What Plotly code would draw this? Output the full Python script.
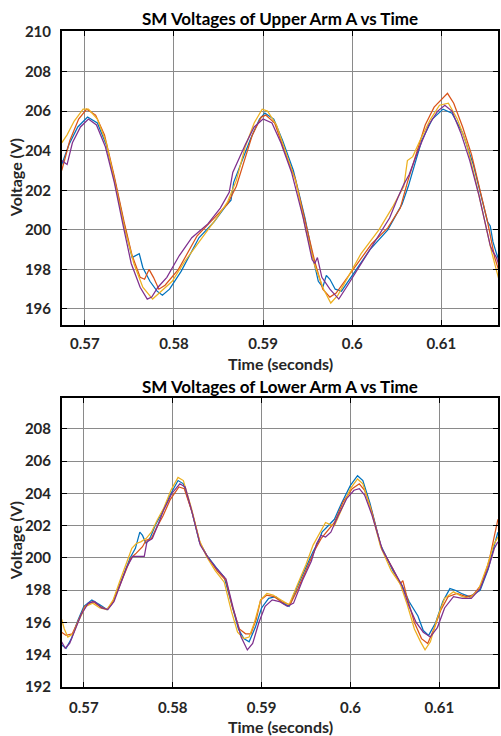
import plotly.graph_objects as go

# ---------------- data ----------------
COLORS = ["#0072BD", "#D95319", "#EDB120", "#7E2F8E"]

# Upper arm A
up_blue_t = [0.5674,0.5682,0.5692,0.5703,0.5714,0.5724,0.5733,0.5744,0.5753,0.5761,0.5765,0.5773,0.5781,0.5787,0.5795,0.5808,0.5828,0.5845,0.5858,0.5864,0.5867,0.5875,0.5886,0.5896,0.5902,0.5912,0.5922,0.5934,0.5947,0.5956,0.5962,0.5967,0.5971,0.5975,0.5981,0.5988,0.6000,0.6020,0.6040,0.6056,0.6063,0.6068,0.6078,0.6090,0.6102,0.6112,0.6124,0.6136,0.6146,0.6152,0.6155,0.6158,0.6162,0.6167]
up_blue_v = [203.3,204.3,205.2,205.7,205.4,204.3,202.6,200.3,198.6,198.8,198.1,197.4,196.9,196.7,197.0,197.9,199.6,200.4,201.2,201.5,202.4,203.3,204.6,205.6,205.9,205.6,204.5,203.0,200.6,198.6,197.4,197.1,197.7,197.5,197.0,196.9,197.7,199.0,200.0,201.3,202.2,203.0,204.5,205.6,206.1,205.9,204.9,203.3,201.4,200.4,200.2,199.4,198.8,198.2]

up_orange_t = [0.5674,0.5683,0.5693,0.5702,0.5712,0.5722,0.5733,0.5744,0.5753,0.5762,0.5767,0.5772,0.5777,0.5783,0.5790,0.5805,0.5826,0.5845,0.5860,0.5870,0.5878,0.5888,0.5898,0.5903,0.5913,0.5924,0.5936,0.5948,0.5958,0.5967,0.5975,0.5982,0.5990,0.6004,0.6022,0.6040,0.6054,0.6062,0.6072,0.6082,0.6092,0.6100,0.6107,0.6114,0.6124,0.6134,0.6142,0.6152,0.6160,0.6167]
up_orange_v = [203.0,204.5,205.6,206.1,205.8,204.8,202.7,200.4,198.7,197.6,197.5,198.0,197.6,197.0,197.2,198.0,199.7,200.6,201.3,202.2,203.4,204.8,205.7,205.8,205.4,204.0,202.6,200.3,198.4,197.0,196.6,196.8,197.3,198.2,199.3,200.1,201.1,202.4,203.9,205.3,206.2,206.6,206.9,206.4,205.2,203.8,202.3,200.4,198.6,197.6]

up_yellow_t = [0.5674,0.5680,0.5688,0.5698,0.5704,0.5714,0.5724,0.5734,0.5745,0.5755,0.5765,0.5776,0.5786,0.5798,0.5812,0.5830,0.5848,0.5860,0.5870,0.5880,0.5890,0.5899,0.5905,0.5915,0.5926,0.5937,0.5948,0.5958,0.5968,0.5976,0.5984,0.5994,0.6010,0.6030,0.6046,0.6058,0.6062,0.6068,0.6076,0.6088,0.6098,0.6108,0.6118,0.6128,0.6138,0.6148,0.6157,0.6167]
up_yellow_v = [204.4,204.8,205.5,206.1,206.1,205.6,204.4,202.3,200.0,198.3,197.1,196.5,196.9,197.4,198.4,199.5,200.6,201.4,202.5,204.2,205.4,206.1,206.0,205.3,203.9,202.4,200.0,198.2,197.0,196.3,196.7,197.5,198.8,200.0,201.2,202.2,203.5,203.7,204.5,205.6,206.3,206.4,205.6,204.4,202.6,200.6,198.8,197.1]

up_purple_t = [0.5674,0.5680,0.5686,0.5695,0.5704,0.5713,0.5723,0.5733,0.5743,0.5752,0.5762,0.5770,0.5775,0.5782,0.5792,0.5806,0.5820,0.5838,0.5852,0.5862,0.5866,0.5872,0.5880,0.5890,0.5900,0.5910,0.5920,0.5932,0.5945,0.5955,0.5958,0.5961,0.5966,0.5975,0.5985,0.5995,0.6010,0.6028,0.6042,0.6052,0.6058,0.6064,0.6074,0.6086,0.6096,0.6104,0.6112,0.6122,0.6132,0.6142,0.6150,0.6155,0.6158,0.6162,0.6167]
up_purple_v = [203.5,203.3,204.4,205.2,205.6,205.3,204.2,202.4,200.2,198.3,197.1,196.5,196.6,197.1,197.6,198.7,199.6,200.3,201.1,201.9,202.9,203.5,204.3,205.2,205.6,205.4,204.4,202.9,200.6,198.5,198.3,198.6,197.6,197.0,196.5,197.2,198.3,199.6,200.6,201.7,202.3,202.8,204.0,205.3,206.0,206.3,206.0,204.9,203.5,201.8,200.2,199.2,198.9,198.6,197.9]

# Lower arm A
lo_blue_t = [0.5675,0.5680,0.5686,0.5693,0.5700,0.5709,0.5718,0.5726,0.5732,0.5738,0.5745,0.5752,0.5758,0.5763,0.5766,0.5770,0.5775,0.5781,0.5788,0.5796,0.5806,0.5812,0.5821,0.5830,0.5838,0.5849,0.5858,0.5866,0.5874,0.5880,0.5886,0.5893,0.5900,0.5908,0.5916,0.5924,0.5931,0.5940,0.5950,0.5958,0.5964,0.5968,0.5975,0.5982,0.5990,0.6000,0.6008,0.6014,0.6022,0.6034,0.6048,0.6058,0.6066,0.6076,0.6082,0.6088,0.6096,0.6104,0.6112,0.6118,0.6125,0.6134,0.6146,0.6155,0.6162,0.6166]
lo_blue_v = [194.6,194.4,195.0,196.1,197.0,197.4,197.1,196.8,197.2,198.0,199.0,200.0,200.6,201.6,201.4,200.9,201.3,202.1,202.8,203.8,204.8,204.6,203.0,201.0,200.2,199.4,198.8,197.2,195.6,195.0,194.8,195.7,196.9,197.5,197.6,197.2,197.0,198.2,199.4,200.4,201.0,201.6,202.0,202.4,203.4,204.5,205.1,204.8,203.4,200.8,199.2,198.3,197.3,196.4,195.5,195.2,196.0,197.3,198.1,198.0,197.8,197.6,198.0,199.3,200.8,201.6]

lo_orange_t = [0.5675,0.5680,0.5687,0.5694,0.5701,0.5710,0.5718,0.5726,0.5732,0.5739,0.5746,0.5753,0.5759,0.5766,0.5770,0.5776,0.5782,0.5789,0.5797,0.5807,0.5813,0.5822,0.5831,0.5840,0.5850,0.5860,0.5867,0.5875,0.5882,0.5888,0.5894,0.5899,0.5906,0.5914,0.5922,0.5932,0.5941,0.5952,0.5960,0.5967,0.5974,0.5982,0.5992,0.6002,0.6010,0.6016,0.6024,0.6035,0.6048,0.6056,0.6059,0.6064,0.6072,0.6080,0.6087,0.6094,0.6102,0.6110,0.6120,0.6130,0.6138,0.6148,0.6156,0.6162,0.6166]
lo_orange_v = [195.4,195.2,195.3,196.2,197.0,197.3,197.0,196.8,197.2,198.1,199.1,200.0,200.3,200.7,201.1,201.2,201.9,202.6,203.6,204.4,204.3,202.8,200.9,200.0,199.2,198.6,197.0,195.6,195.3,195.3,196.2,197.4,197.7,197.6,197.3,197.1,198.1,199.5,200.5,201.2,201.7,202.2,203.5,204.3,204.6,204.2,202.9,200.6,199.3,198.4,198.6,197.5,196.0,195.0,194.7,195.6,196.8,197.6,197.8,197.6,197.7,198.4,199.8,201.3,202.4]

lo_yellow_t = [0.5675,0.5678,0.5682,0.5688,0.5694,0.5702,0.5710,0.5718,0.5726,0.5733,0.5740,0.5747,0.5754,0.5759,0.5764,0.5770,0.5776,0.5783,0.5790,0.5798,0.5806,0.5812,0.5821,0.5830,0.5838,0.5848,0.5858,0.5866,0.5873,0.5880,0.5886,0.5892,0.5899,0.5906,0.5913,0.5922,0.5931,0.5940,0.5950,0.5958,0.5966,0.5972,0.5976,0.5982,0.5990,0.6000,0.6008,0.6014,0.6022,0.6034,0.6046,0.6056,0.6064,0.6072,0.6079,0.6084,0.6090,0.6098,0.6106,0.6116,0.6126,0.6134,0.6144,0.6154,0.6161,0.6166]
lo_yellow_v = [196.2,195.6,195.1,195.3,196.1,197.0,197.2,196.9,196.8,197.4,198.5,199.6,200.6,200.9,201.0,201.2,201.6,202.4,203.1,204.2,205.0,204.8,203.1,201.1,200.1,199.2,198.5,196.7,195.4,195.0,195.1,196.0,197.4,197.8,197.7,197.4,197.1,198.3,199.6,200.8,201.6,202.2,202.1,202.0,203.0,204.3,204.9,204.6,203.2,200.7,199.2,198.4,197.1,195.6,194.8,194.3,194.8,196.3,197.5,197.9,197.6,197.5,198.0,199.5,200.8,201.3]

lo_purple_t = [0.5675,0.5679,0.5684,0.5690,0.5697,0.5705,0.5712,0.5720,0.5727,0.5734,0.5741,0.5748,0.5755,0.5760,0.5768,0.5771,0.5777,0.5783,0.5790,0.5799,0.5808,0.5814,0.5822,0.5831,0.5840,0.5850,0.5860,0.5868,0.5877,0.5884,0.5890,0.5897,0.5904,0.5912,0.5920,0.5929,0.5936,0.5946,0.5956,0.5962,0.5967,0.5972,0.5978,0.5986,0.5996,0.6004,0.6010,0.6016,0.6024,0.6036,0.6048,0.6058,0.6066,0.6074,0.6082,0.6090,0.6098,0.6106,0.6116,0.6126,0.6136,0.6146,0.6156,0.6162,0.6166]
lo_purple_v = [194.8,194.4,194.7,195.5,196.5,197.2,197.3,196.9,196.8,197.3,198.4,199.4,200.1,200.1,200.1,201.0,201.2,202.0,203.0,204.0,204.6,204.4,202.8,200.8,200.0,199.3,198.7,196.9,195.1,194.3,194.7,196.0,197.0,197.4,197.3,197.0,197.2,198.6,199.8,200.9,201.4,201.3,201.6,202.6,203.7,204.2,204.3,203.9,202.7,200.5,199.3,198.3,197.0,196.0,195.4,195.1,195.7,196.9,197.6,197.5,197.5,198.1,199.5,200.6,201.0]

upper_series = [(up_blue_t, up_blue_v), (up_orange_t, up_orange_v),
                (up_yellow_t, up_yellow_v), (up_purple_t, up_purple_v)]
lower_series = [(lo_blue_t, lo_blue_v), (lo_orange_t, lo_orange_v),
                (lo_yellow_t, lo_yellow_v), (lo_purple_t, lo_purple_v)]

x_tickvals = [0.57, 0.58, 0.59, 0.60, 0.61]
x_ticktext = ["0.57", "0.58", "0.59", "0.6", "0.61"]
upper_ytickvals = [196, 198, 200, 202, 204, 206, 208, 210]
lower_ytickvals = [192, 194, 196, 198, 200, 202, 204, 206, 208]

upper_title = "SM Voltages of Upper Arm A vs Time"
lower_title = "SM Voltages of Lower Arm A vs Time"
x_title = "Time (seconds)"
y_title = "Voltage (V)"

# ---------------- figure ----------------
fig = go.Figure()
for (t, v), c in zip(upper_series, COLORS):
    fig.add_trace(go.Scatter(x=t, y=v, mode="lines", line=dict(color=c, width=1.25),
                             xaxis="x", yaxis="y", showlegend=False))
for (t, v), c in zip(lower_series, COLORS):
    fig.add_trace(go.Scatter(x=t, y=v, mode="lines", line=dict(color=c, width=1.25),
                             xaxis="x2", yaxis="y2", showlegend=False))

FONT = "Lato"
tickfont = dict(family=FONT, size=15, color="#262626", weight="bold")
axis_common = dict(showline=True, linecolor="black", linewidth=2, mirror="ticks",
                   ticks="inside", ticklen=5, tickcolor="black", tickwidth=1,
                   showgrid=True, gridcolor="#8a8a8a", gridwidth=1, zeroline=False,
                   tickfont=tickfont)

H, W = 736, 501
mt, mb, ml, mr = 31, 49, 62, 1
ph = H - mt - mb
pw = W - ml - mr

def py(pix):
    return (H - mb - pix) / ph

def px(pix):
    return (pix - ml) / pw

fig.update_layout(
    width=W, height=H,
    margin=dict(l=ml, r=mr, t=mt, b=mb),
    paper_bgcolor="white", plot_bgcolor="white",
    xaxis=dict(domain=[0, 1], range=[0.56743, 0.61637], anchor="y",
               tickvals=x_tickvals, ticktext=x_ticktext, ticklabelstandoff=4, **axis_common),
    yaxis=dict(domain=[py(325), 1.0], range=[195.19, 210.05], anchor="x",
               tickvals=upper_ytickvals, ticklabelstandoff=6, **axis_common),
    xaxis2=dict(domain=[0, 1], range=[0.56754, 0.61661], anchor="y2",
                tickvals=x_tickvals, ticktext=x_ticktext, ticklabelstandoff=6, **axis_common),
    yaxis2=dict(domain=[0, py(398)], range=[192, 209.92], anchor="x2",
                tickvals=lower_ytickvals, ticklabelstandoff=6, **axis_common),
)

title_font = dict(family=FONT, size=17, color="black", weight="bold")
label_font = dict(family=FONT, size=16, color="#262626", weight="bold")
ann = [
    dict(text=upper_title, x=0.5, y=py(18), font=title_font),
    dict(text=lower_title, x=0.5, y=py(386), font=title_font),
    dict(text=x_title, x=0.5, y=py(364), font=label_font),
    dict(text=x_title, x=0.5, y=py(726), font=label_font),
    dict(text=y_title, x=px(15), y=py(178), font=label_font, textangle=-90),
    dict(text=y_title, x=px(15), y=py(541), font=label_font, textangle=-90),
]
for a in ann:
    fig.add_annotation(xref="paper", yref="paper", showarrow=False,
                       xanchor="center", yanchor="middle", **a)

fig.write_html("out.html", config={"displayModeBar": False},
               post_script="document.body.style.margin='0';")
